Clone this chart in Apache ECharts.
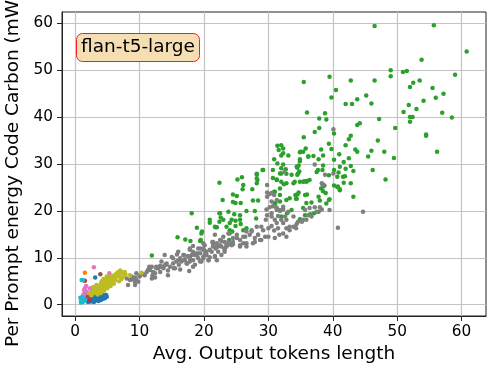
<!DOCTYPE html>
<html>
<head>
<meta charset="utf-8">
<script src="https://cdn.jsdelivr.net/npm/echarts@6/dist/echarts.min.js"></script>
<style>
  html, body { margin: 0; padding: 0; background: #fff; }
  #chart { width: 498px; height: 374px; }
</style>
</head>
<body>
<div id="chart"></div>
<script>
// values, one list per colour group
var xTicks = [0, 10, 20, 30, 40, 50, 60];
var yTicks = [0, 10, 20, 30, 40, 50, 60];

var bluePts = [[2.0,1.0],[2.3,1.2],[2.6,1.0],[2.8,1.4],[3.0,1.2],[3.2,1.6],[3.4,1.3],[3.6,1.8],[3.8,1.5],[4.0,1.9],
  [4.2,1.6],[4.4,2.0],[2.5,1.6],[2.9,1.8],[3.3,2.0],[3.7,2.2],[4.1,2.3],[2.2,1.5],[3.5,1.0],[3.9,1.2],
  [4.3,1.3],[4.6,1.8],[2.7,2.0],[3.1,0.9],[1.8,1.2],[3.1,5.8],[4.8,2.1],[3.4,2.4],[2.4,0.7],[2.9,0.6],
  [4.6,1.4],[4.9,1.7],[4.0,1.0],[2.0,0.6],[3.6,0.8]];
var orangePts = [[1.5,6.8],[1.6,1.2]];
var greenPts = [[46.5,59.4],[55.7,59.6],[60.8,54.0],[53.8,52.2],[49.0,50.0],[50.9,49.6],[51.5,49.8],[35.5,47.5],[39.5,48.6],[42.8,47.8],
  [46.5,47.8],[49.0,48.7],[59.0,49.0],[52.0,46.4],[52.5,47.3],[53.5,47.8],[55.5,46.2],[57.2,45.0],[56.0,44.1],[54.1,43.5],
  [51.8,42.6],[53.0,41.7],[51.0,41.1],[52.0,40.0],[52.4,40.0],[52.0,39.0],[57.0,40.9],[58.5,39.9],[54.5,36.3],[54.5,36.0],
  [56.2,32.6],[40.5,45.8],[39.8,44.2],[42.0,42.8],[43.0,42.8],[43.8,43.8],[45.2,44.6],[46.0,42.9],[47.2,39.6],[44.2,38.7],
  [43.8,38.3],[49.7,37.7],[42.8,36.0],[42.5,35.3],[42.0,34.0],[47.0,35.0],[43.5,33.1],[43.8,32.6],[46.0,32.8],[48.0,32.6],
  [45.5,31.6],[49.5,31.3],[42.5,31.2],[41.0,32.1],[41.7,30.4],[42.8,29.6],[43.2,28.5],[46.2,28.7],[48.2,26.7],[42.0,29.0],
  [41.1,29.4],[40.9,28.2],[41.9,27.4],[41.6,27.3],[42.8,25.9],[41.7,26.0],[40.7,27.3],[40.2,28.7],[40.2,30.9],[39.4,34.3],
  [39.8,33.2],[40.2,36.5],[39.0,39.5],[37.9,39.7],[38.8,40.8],[36.0,41.0],[37.9,37.7],[37.2,36.8],[35.5,35.7],[35.8,33.3],
  [35.0,32.6],[38.2,33.1],[37.0,31.7],[36.2,31.6],[37.8,31.0],[38.5,31.8],[34.9,30.6],[38.5,29.7],[38.4,28.7],[37.7,28.7],
  [37.5,28.3],[34.7,29.7],[34.5,29.2],[34.8,28.4],[34.5,27.7],[35.6,26.3],[36.0,26.4],[36.4,26.6],[33.9,25.9],[39.4,27.6],
  [38.4,25.7],[38.7,25.4],[38.2,24.8],[38.5,24.2],[38.9,23.8],[40.2,25.4],[40.7,25.1],[41.1,24.4],[36.0,23.5],[34.5,23.5],
  [34.3,22.6],[37.8,23.0],[39.5,22.5],[43.2,23.0],
  [31.4,33.9],[32.0,34.0],[32.3,33.3],[31.6,33.0],[32.3,32.3],[32.0,31.8],[33.1,31.8],[30.9,31.0],[31.4,30.1],[32.3,29.9],
  [29.2,28.7],[30.7,28.7],[32.0,29.1],[32.0,28.0],[32.7,28.9],[32.8,27.9],[28.2,27.9],[28.2,26.9],[28.2,25.9],[25.9,27.2],
  [25.2,26.7],[26.1,25.5],[26.0,24.6],[22.4,26.0],[27.5,24.6],[30.7,27.0],[31.3,26.7],[32.0,26.2],[32.4,25.7],[32.8,25.9],
  [31.8,24.8],[30.9,24.1],[27.6,22.2],[28.4,22.2],[22.9,22.3],[24.5,21.9],[24.9,21.7],[25.7,21.7],[25.1,23.2],[24.5,23.5],
  [31.1,21.7],[31.8,22.0],[32.8,22.3],[33.3,22.7],[23.8,19.8],[24.7,19.3],[22.4,19.5],[20.9,18.1],[25.6,19.1],[27.9,20.0],
  [18.1,19.5],[22.4,17.7],[23.0,18.1],[24.0,17.4],[24.9,17.9],[25.6,18.1],[25.7,17.2],[24.9,16.8],[18.9,16.4],[19.7,15.6],
  [22.0,16.5],[24.0,15.9],[15.9,14.4],[17.1,13.9],[17.9,13.6],[23.9,13.8],[11.9,10.5],[34.9,18.2],[35.7,19.1],[36.5,19.3],
  [37.1,19.5],[37.8,19.8],[35.4,20.6],[35.9,21.7],[36.7,21.8],[38.0,22.2],[39.0,21.6],[34.4,22.6],[34.2,23.4],[34.7,23.9],
  [35.7,23.4],[39.4,22.3],[41.1,24.6],[40.8,25.2],[38.5,25.2],[19.6,15.2],[19.4,13.6],[20.9,17.5],[21.7,16.6],[22.5,19.5],
  [28.2,27.7],[29.1,28.7],[28.3,26.6],[26.6,20.0],[22.6,18.6],[24.3,18.1],[28.1,18.4],[21.8,16.5],[23.5,16.6],[24.4,15.6],
  [26.1,15.9],[26.6,16.3],[19.5,13.8],[31.0,21.6],[31.3,20.6],[33.6,20.2],[32.9,19.5],[32.0,18.8],[31.8,23.4],[31.0,24.1],
  [31.3,26.6],[31.8,28.0],[33.6,27.7],[34.1,26.2],[34.9,26.2],[35.4,26.2],[35.9,26.2],[34.6,28.0],[34.4,29.4],[34.9,31.0],
  [35.4,32.6],[36.2,31.6],[34.9,32.5]];
var redPts = [[1.5,5.1],[2.2,1.0]];
var purplePts = [[1.5,2.5],[1.3,2.0],[1.8,1.6]];
var brownPts = [[3.9,6.5],[2.0,1.8]];
var pinkPts = [[2.9,8.0],[5.3,6.7],[1.4,3.1],[2.3,3.5],[1.5,3.5],[1.8,2.8],[2.0,2.5],[2.6,3.0],[3.0,2.6],[1.3,2.2],
  [2.5,2.2],[3.5,3.3],[1.7,4.0],[4.5,4.2],[1.2,1.8],[4.6,4.6]];
var grayPts = [[8.0,5.6],[8.8,6.0],[9.5,6.7],[9.3,4.9],[8.5,5.3],[8.8,5.4],[9.3,5.8],[9.5,5.3],[10.0,6.1],[10.6,6.5],
  [11.1,7.0],[11.5,8.1],[11.6,7.4],[12.0,6.3],[12.1,7.0],[12.4,5.8],[12.9,7.8],[13.2,8.3],[13.7,8.1],[14.0,8.6],
  [14.4,7.3],[14.7,8.1],[15.2,8.8],[15.3,7.8],[15.8,10.7],[16.0,9.5],[16.1,8.5],[16.3,7.5],[16.5,9.2],[16.8,10.6],
  [17.0,9.7],[17.4,8.8],[17.5,10.4],[17.7,7.2],[17.8,9.2],[18.1,10.6],[18.3,9.5],[18.6,8.5],[18.9,11.0],[19.1,9.9],
  [19.4,11.0],[19.6,9.2],[19.9,9.9],[20.1,11.5],[20.4,10.6],[20.7,9.5],[20.9,11.7],[21.4,12.4],[21.7,10.4],[22.0,13.1],
  [22.2,11.3],[22.5,13.8],[22.7,12.4],[23.0,14.5],[23.2,11.7],[23.5,12.7],[23.8,15.2],
  [29.8,25.5],[29.8,23.9],[30.5,23.8],[30.9,23.4],[29.7,20.3],[30.2,20.8],[30.7,21.0],[31.3,20.2],[31.8,20.0],[32.3,20.3],
  [29.8,19.1],[30.5,18.8],[31.0,18.1],[31.5,18.9],[32.0,18.1],[32.6,18.8],[32.8,18.1],[31.3,17.4],[30.5,16.8],[30.0,16.3],
  [30.9,15.8],[31.5,16.3],[32.3,15.2],[32.8,14.5],[31.7,14.9],[31.0,14.2],[28.2,16.6],[27.4,15.9],[26.6,15.6],[27.1,14.9],
  [26.4,14.5],[25.6,13.8],[25.1,14.2],[24.5,13.4],[24.0,12.9],[23.5,12.4],[23.2,13.4],[22.5,12.7],[21.8,12.0],[21.4,13.1],
  [20.4,11.3],[19.9,12.0],[18.9,10.6],[18.3,11.3],[17.8,10.2],[17.0,9.5],[16.3,9.9],[15.7,9.2],[14.1,8.5],[13.4,8.1],
  [12.6,7.8],[11.9,8.1],[28.4,14.9],[28.7,13.8],[29.2,15.9],[29.5,14.5],[28.9,16.6],[27.9,14.2],[27.6,13.1],[26.6,12.4],
  [26.1,13.1],[25.6,12.4],[23.2,11.3],[22.0,9.5],[20.9,10.1],[19.9,10.2],
  [39.5,20.2],[38.3,20.3],[37.5,19.8],[36.7,18.8],[35.9,18.1],[35.2,17.7],[34.4,17.2],[33.9,16.6],[33.3,15.9],[34.3,16.3],
  [36.4,20.6],[37.2,20.8],[38.0,20.8],[40.1,28.0],[38.5,25.5],[32.5,28.3],[40.1,37.4],[38.3,25.9],[38.8,27.7],[44.7,19.8],
  [40.8,16.4],[37.2,29.9],[29.8,23.0],[30.2,23.6],[30.5,22.0],[31.2,20.8],[30.5,19.5],[29.6,18.1],[31.3,22.3],[31.8,20.2],
  [32.3,20.9],[33.1,19.8],[33.9,18.8],[34.6,17.7],[35.7,20.2],[36.2,19.1],[35.4,18.1],[34.1,16.6],[33.3,16.6],[32.8,16.3],
  [32.3,17.4],[24.0,15.2],[25.1,14.9],[26.1,14.5],[27.4,15.6],[28.4,14.9],[28.9,13.8],[30.0,14.5],[27.9,13.4],[26.6,13.1],
  [25.6,12.7],[24.5,12.9],[21.4,13.4],[22.0,12.4],[22.7,13.6],[20.1,12.7],[19.4,12.0],[18.3,12.5],[17.8,12.0],
  [8.2,4.2],[9.0,5.6],[9.8,4.9],[10.8,6.3],[11.3,7.4],[11.9,5.6],[12.4,6.7],[12.6,8.1],[13.2,7.0],[13.7,7.8],
  [14.2,8.8],[14.4,6.3],[15.0,10.2],[15.5,7.8],[16.0,11.3],[16.9,10.6],[17.3,8.8],[17.8,9.9],[18.3,8.1],[18.6,10.6],
  [19.1,12.0],[19.4,9.2],[19.9,13.1],[20.1,10.6],[20.7,9.5],[21.2,11.3],[21.3,13.4],[21.7,10.2],[22.2,12.4],[22.7,10.6],
  [23.2,12.0],[23.8,13.4],[24.3,12.7],[24.5,14.2],[21.7,14.9],[19.9,11.7],[17.8,11.7],[15.2,9.9],[13.4,9.2],[13.9,10.6],
  [9.3,4.2],[10.0,6.0]];
var olivePts = [[2.5,2.0],[3.0,2.5],[3.2,3.0],[3.5,2.8],[3.8,3.3],[4.0,3.0],[4.2,3.8],[4.5,3.5],[4.8,4.0],[5.0,4.5],
  [5.2,4.2],[5.5,5.0],[5.8,4.8],[6.0,5.5],[6.2,5.2],[6.5,6.0],[6.8,6.5],[7.0,7.3],[6.6,6.9],[5.5,5.8],
  [5.0,5.3],[4.5,4.8],[4.0,4.5],[3.5,4.0],[3.0,3.5],[2.8,3.8],[3.3,4.2],[4.2,5.0],[4.8,5.5],[5.8,6.2],
  [6.3,6.5],[7.5,6.0],[7.8,6.5],[8.5,6.3],[7.2,5.5],[6.8,5.0],[6.0,4.5],[5.5,4.0],[5.0,3.5],[4.5,3.0],
  [4.0,2.5],[3.5,2.2],[2.8,2.7],[4.3,4.2],[5.3,4.7],[6.2,5.8],[3.8,3.8],[4.6,4.3],[5.6,5.4],[6.4,6.3],
  [7.3,6.8],[2.2,2.5],[3.6,3.2],[10.3,6.8],[5.2,6.0],[4.4,5.5],[7.7,7.0],[6.9,6.0],[4.1,4.9],[4.9,6.0]];
var cyanPts = [[1.0,5.3],[1.2,5.2],[0.9,0.8],[1.0,1.2],[1.2,0.6],[1.4,1.0],[0.8,1.5],[1.1,1.6],[1.5,0.9],[1.3,1.3],[0.9,0.5]];

var groups = [bluePts, orangePts, greenPts, redPts, purplePts, brownPts, pinkPts, grayPts, olivePts, cyanPts];
var colors = ['#1f77b4', '#ff7f0e', '#2ca02c', '#d62728', '#9467bd', '#8c564b', '#e377c2', '#7f7f7f', '#bcbd22', '#17becf'];

var font = 'DejaVu Sans';
var chart = echarts.init(document.getElementById('chart'));

var series = groups.map(function (pts, i) {
  return {
    type: 'scatter',
    data: pts,
    symbolSize: 4.5,
    itemStyle: { color: colors[i], opacity: 1 },
    silent: true
  };
});

chart.setOption({
  animation: false,
  title: {
    text: 'flan-t5-large',
    left: 76,
    top: 33,
    padding: [4, 5],
    backgroundColor: '#f5deb3',
    borderColor: '#f02020',
    borderWidth: 1,
    borderRadius: 6,
    textStyle: { fontFamily: font, fontSize: 18.5, fontWeight: 'normal', color: '#000', lineHeight: 21 }
  },
  grid: {
    left: 62, right: 12, top: 12, bottom: 58,
    outerBoundsMode: 'none',
    show: true, borderColor: '#222', borderWidth: 1
  },
  xAxis: {
    type: 'value',
    min: -2.05,
    max: 63.8,
    name: 'Avg. Output tokens length',
    nameLocation: 'middle',
    nameGap: 24,
    nameTextStyle: { fontFamily: font, fontSize: 18.5, color: '#000' },
    axisLine: { show: true, onZero: false, lineStyle: { color: '#222' } },
    axisTick: { show: true, length: 5, customValues: xTicks, lineStyle: { color: '#222' } },
    axisLabel: { customValues: xTicks, margin: 9, fontFamily: font, fontSize: 15.3, color: '#000' },
    splitLine: { show: true, lineStyle: { color: '#c4c4c4', width: 1.2 } }
  },
  yAxis: {
    type: 'value',
    min: -2.4,
    max: 62.4,
    name: 'Per Prompt energy Code Carbon (mWh)',
    nameLocation: 'middle',
    nameGap: 32,
    nameTextStyle: { fontFamily: font, fontSize: 18.5, color: '#000' },
    axisLine: { show: true, onZero: false, lineStyle: { color: '#222' } },
    axisTick: { show: true, length: 5, customValues: yTicks, lineStyle: { color: '#222' } },
    axisLabel: { customValues: yTicks, margin: 9, fontFamily: font, fontSize: 15.3, color: '#000' },
    splitLine: { show: true, lineStyle: { color: '#c4c4c4', width: 1.2 } }
  },
  series: series
});
</script>
</body>
</html>
